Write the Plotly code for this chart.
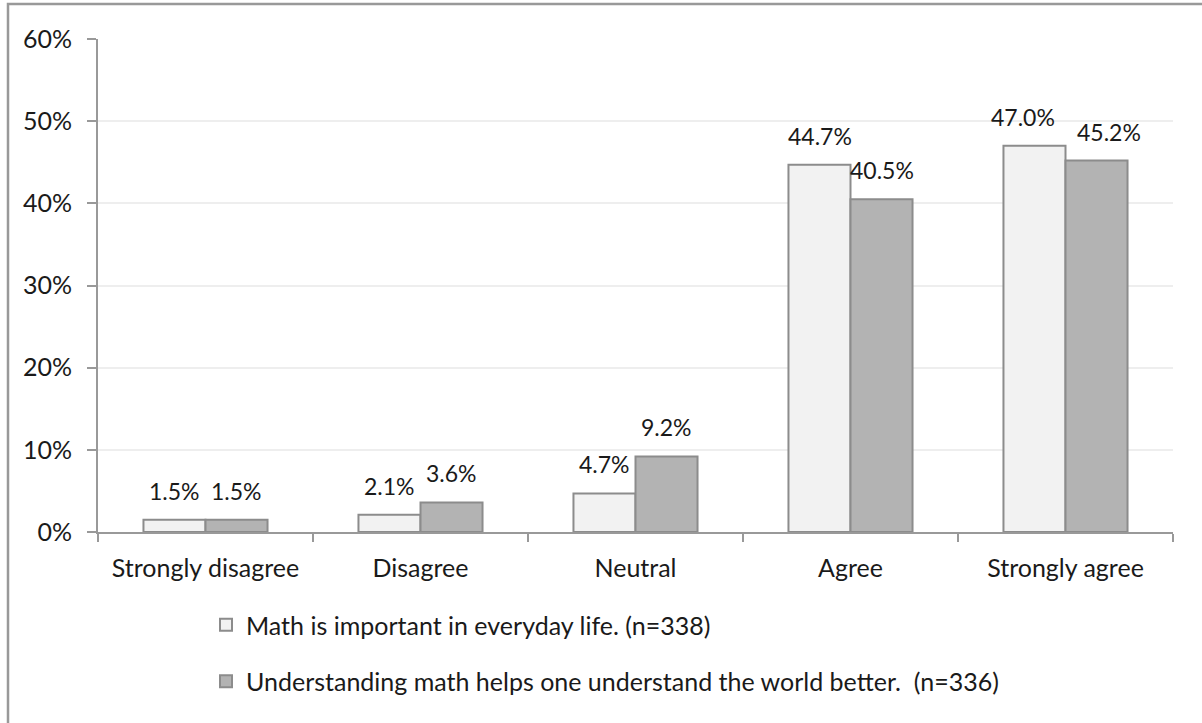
import plotly.graph_objects as go

# Survey responses (share of respondents)
categories = ["Strongly disagree", "Disagree", "Neutral", "Agree", "Strongly agree"]
series_names = [
    "Math is important in everyday life. (n=338)",
    "Understanding math helps one understand the world better.  (n=336)",
]
important_everyday = [0.015, 0.021, 0.047, 0.447, 0.470]
helps_understand_world = [0.015, 0.036, 0.092, 0.405, 0.452]
y_ticks = [0, 0.1, 0.2, 0.3, 0.4, 0.5, 0.6]
y_tick_labels = ["0%", "10%", "20%", "30%", "40%", "50%", "60%"]

FONT = "Lato"
FS = 25          # axis / legend text
FS_LBL = 23      # value labels
TXT = "#1a1a1a"
EDGE = "#8c8c8c"
fills = ["#f2f2f2", "#b3b3b3"]
all_values = [important_everyday, helps_understand_world]

W, H = 1202, 723
ML, MR, MT, MB = 98, 29, 39, 191
Y_MAX = 0.6

plot_w = W - ML - MR
plot_h = H - MT - MB

fig = go.Figure()
for i, (name, vals) in enumerate(zip(series_names, all_values)):
    fig.add_trace(go.Bar(
        x=categories, y=vals, name=name,
        marker=dict(color=fills[i], line=dict(color=EDGE, width=2)),
        legendgroup=f"g{i}",
        hoverinfo="skip",
    ))

# value labels above each bar; labels of a pair that sit at nearly the
# same height are nudged apart so they do not run into each other
bar_half = 31
for j, c in enumerate(categories):
    a, b = important_everyday[j], helps_understand_world[j]
    close = abs(a - b) * plot_h / Y_MAX < 26 and max(a, b) >= 0.1
    spread = 12 if close else 0
    for i, v in enumerate((a, b)):
        shift = -(bar_half + spread) if i == 0 else (bar_half + spread)
        fig.add_annotation(
            x=c, y=v, xref="x", yref="y", text=f"{v*100:.1f}%",
            showarrow=False, xshift=shift, yshift=13, yanchor="bottom",
            font=dict(family=FONT, size=FS_LBL, color=TXT),
        )

# outer chart frame (extends past the right and bottom edges)
fig.add_shape(
    type="rect", xref="paper", yref="paper",
    x0=(8 - ML) / plot_w, x1=(W + 10 - ML) / plot_w,
    y0=-(H + 10 - MT - plot_h) / plot_h, y1=1 + (MT - 4) / plot_h,
    line=dict(color="#999999", width=2.5), fillcolor="rgba(0,0,0,0)", layer="below",
)

fig.update_layout(
    width=W, height=H,
    margin=dict(l=ML, r=MR, t=MT, b=MB, autoexpand=False),
    barmode="group", bargap=0.423, bargroupgap=0,
    plot_bgcolor="white", paper_bgcolor="white",
    font=dict(family=FONT, size=FS, color=TXT),
    showlegend=True,
    legend=dict(
        xref="container", yref="container",
        x=206 / W, y=1 - 602 / H, xanchor="left", yanchor="top",
        traceorder="grouped", tracegroupgap=21,
        font=dict(family=FONT, size=FS, color=TXT),
        itemwidth=30, bgcolor="rgba(0,0,0,0)",
    ),
    xaxis=dict(
        type="category", tickson="boundaries", ticks="outside", ticklen=8,
        tickwidth=2, tickcolor="#999999", showline=True, linecolor="#999999",
        linewidth=2, showgrid=False, tickfont=dict(family=FONT, size=FS),
        tickangle=0, ticklabelstandoff=13, fixedrange=True,
    ),
    yaxis=dict(
        range=[0, Y_MAX], tickvals=y_ticks, ticktext=y_tick_labels,
        ticks="outside", ticklen=9, tickwidth=2, tickcolor="#999999",
        showline=True, linecolor="#999999", linewidth=2,
        showgrid=True, gridcolor="#eeeeee", gridwidth=2,
        zeroline=False, tickfont=dict(family=FONT, size=FS),
        ticklabelstandoff=10, fixedrange=True,
    ),
)

fig.write_html("out.html")
